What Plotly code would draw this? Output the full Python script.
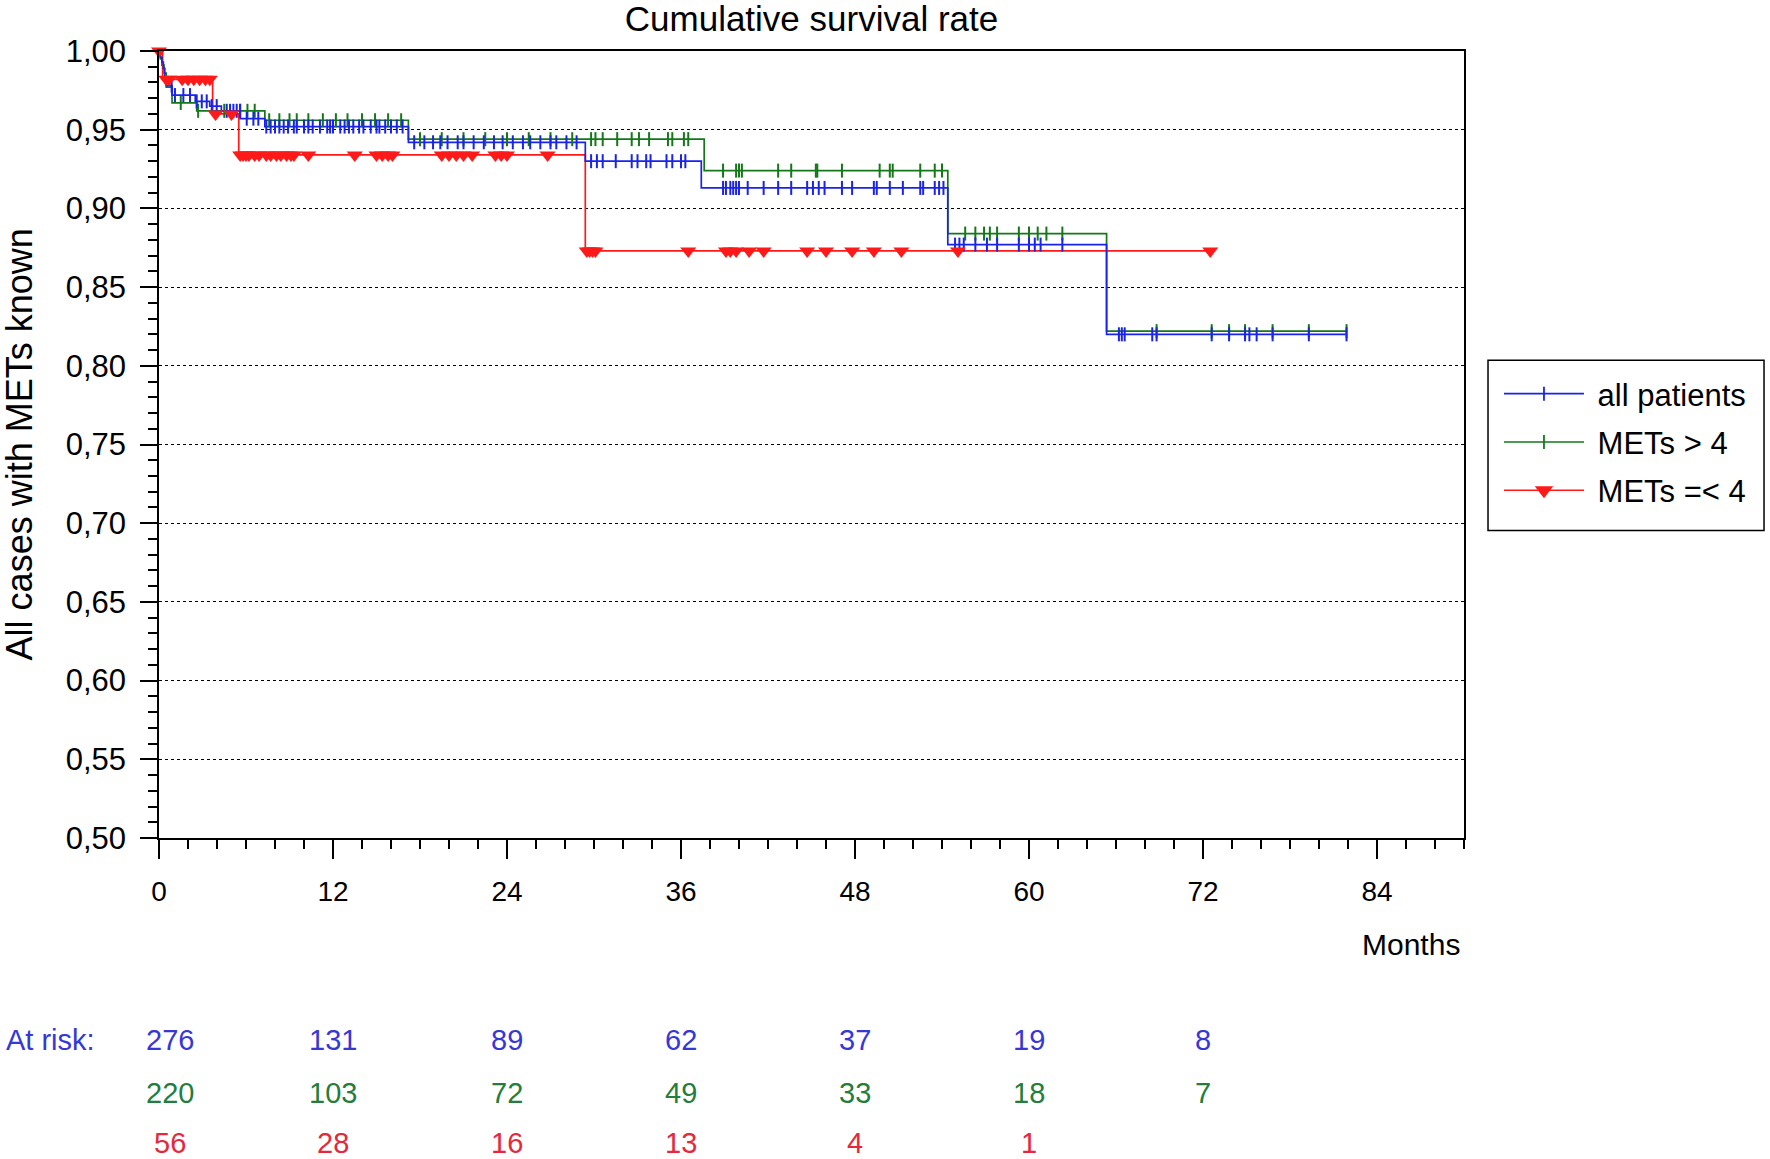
import numpy as np
import plotly.graph_objects as go

# ---------------- data ----------------
# step-function events: time (months) and survival after the step
all_t = [0, 0.1, 0.2, 0.3, 0.4, 0.5, 0.9, 2.5, 3.5, 4.3, 5.6, 7.3, 17.2, 29.4, 37.4, 54.4, 65.35]
all_s = [1.0, 0.996, 0.993, 0.989, 0.982, 0.978, 0.972, 0.968, 0.965, 0.962, 0.957, 0.952, 0.942, 0.930, 0.913, 0.877, 0.820]
all_end = 81.9
all_cens = [0.87, 1.1, 1.68, 2.14, 2.6, 2.95, 3.29, 3.64, 3.98, 4.67, 4.9, 5.13, 5.36, 5.59, 6.05, 6.51, 6.85,
            7.4, 7.7, 8.0, 8.3, 8.6, 8.9, 9.3, 9.5, 10.0, 10.3, 10.6, 11.1, 11.6, 11.8, 12.0, 12.5, 12.8, 13.1,
            13.4, 13.8, 14.1, 14.6, 15.0, 15.2, 15.6, 16.0, 16.4, 16.8,
            17.6, 18.3, 18.9, 19.4, 19.9, 20.6, 21.0, 21.7, 22.4, 23.1, 23.7, 24.4, 25.1, 25.6, 26.3, 27.0,
            27.4, 28.1, 28.8,
            29.8, 30.2, 30.6, 31.5, 32.6, 33.0, 33.6, 33.9, 35.0, 35.4, 36.0, 36.3,
            38.9, 39.1, 39.4, 39.6, 39.8, 40.0, 40.6, 41.7, 42.7, 43.6, 44.7, 45.1, 45.5, 45.9, 47.1, 47.8,
            49.3, 49.5, 50.4, 51.3, 52.5, 52.7, 53.5, 53.8, 54.1,
            54.9, 55.2, 55.5, 56.3, 57.1, 57.8, 59.3, 60.0, 60.4, 60.8, 62.3,
            66.2, 66.4, 66.6, 68.5, 68.8, 72.6, 73.8, 74.9, 75.2, 75.7, 76.8, 79.3, 81.9]

gt4_t = [0, 0.1, 0.2, 0.35, 0.5, 0.9, 2.6, 7.3, 17.2, 37.6, 54.4, 65.35]
gt4_s = [1.0, 0.995, 0.991, 0.986, 0.977, 0.967, 0.962, 0.956, 0.944, 0.924, 0.884, 0.822]
gt4_end = 81.9
gt4_cens = [1.5, 2.7, 4.5, 5.6, 6.1, 6.6,
            7.6, 8.3, 9.0, 9.5, 10.3, 11.3, 12.2, 13.0, 14.0, 14.9, 15.8, 16.7,
            18.0, 19.5, 21.0, 22.5, 24.0, 25.5, 27.0, 28.5, 29.8, 30.1, 30.6, 31.6, 32.6, 33.1, 33.8,
            35.1, 35.4, 36.2, 36.5,
            38.9, 39.8, 40.0, 40.2, 42.7, 43.6, 45.3, 45.4, 47.1, 49.7, 50.4, 50.6, 52.5, 53.5, 54.0,
            55.6, 56.3, 56.9, 57.3, 57.8, 59.3, 60.0, 60.6, 61.2, 62.3,
            68.8, 72.6, 73.8, 74.9, 76.8, 79.3, 81.9]

le4_t = [0, 0.25, 3.7, 5.5, 29.4]
le4_s = [1.0, 0.982, 0.960, 0.934, 0.873]
le4_end = 72.5
le4_cens = [0.0, 0.5, 0.7, 1.6, 2.0, 2.4, 2.8, 3.2, 3.5, 3.9, 5.0,
            5.6, 5.8, 6.0, 6.2, 6.6, 6.9, 7.4, 7.7, 8.1, 8.4, 8.8, 9.1, 9.3, 10.3, 13.5, 15.0, 15.4, 15.8,
            16.1, 19.5, 20.0, 20.5, 21.0, 21.6, 23.2, 23.6, 24.0, 26.8,
            29.5, 29.7, 29.9, 30.1, 36.5, 39.1, 39.4, 39.8, 40.7, 41.7, 44.7, 46.0, 47.8, 49.3, 51.2,
            55.1, 72.5]

risk_times = [0, 12, 24, 36, 48, 60, 72]
risk_all = [276, 131, 89, 62, 37, 19, 8]
risk_gt4 = [220, 103, 72, 49, 33, 18, 7]
risk_le4 = [56, 28, 16, 13, 4, 1]

series_names = ["all patients", "METs > 4", "METs =< 4"]
x_ticks = [0, 12, 24, 36, 48, 60, 72, 84]

# ---------------- styling ----------------
BLUE = "rgb(25,35,235)"
GREEN = "rgb(20,120,25)"
RED = "rgb(255,25,25)"
RISK_BLUE = "rgb(55,55,215)"
RISK_GREEN = "rgb(35,125,60)"
RISK_RED = "rgb(230,40,60)"
FONT = "Liberation Sans, Arial, sans-serif"

W, H = 1770, 1159


def step_lookup(times, surv, pts):
    idx = np.searchsorted(np.asarray(times), np.asarray(pts), side="right") - 1
    return [surv[i] for i in idx]


fig = go.Figure()

curves = [
    (all_t, all_s, all_end, all_cens, BLUE, "line-ns", 10, series_names[0]),
    (gt4_t, gt4_s, gt4_end, gt4_cens, GREEN, "line-ns", 10, series_names[1]),
    (le4_t, le4_s, le4_end, le4_cens, RED, "triangle-down", 14, series_names[2]),
]

# draw order: green, red, blue lines
for k in [1, 2, 0]:
    t, s, end, cens, col, sym, msz, name = curves[k]
    fig.add_trace(go.Scatter(
        x=list(t) + [end], y=list(s) + [s[-1]], mode="lines",
        line=dict(color=col, width=1.7, shape="hv"),
        showlegend=False, hoverinfo="skip", legendgroup=name))

for k in [1, 0, 2]:
    t, s, end, cens, col, sym, msz, name = curves[k]
    if sym == "line-ns":
        mk = dict(symbol=sym, size=msz, line=dict(color=col, width=2), color=col)
    else:
        mk = dict(symbol=sym, size=msz, color=col, line=dict(width=0))
    fig.add_trace(go.Scatter(
        x=cens, y=step_lookup(t, s, cens), mode="markers", marker=mk,
        showlegend=False, cliponaxis=False, legendgroup=name))

# legend entries
for k in [0, 1, 2]:
    t, s, end, cens, col, sym, msz, name = curves[k]
    if sym == "line-ns":
        mk = dict(symbol=sym, size=msz, line=dict(color=col, width=1.8), color=col)
    else:
        mk = dict(symbol=sym, size=msz + 2, color=col, line=dict(width=0))
    fig.add_trace(go.Scatter(
        x=[None], y=[None], mode="lines+markers", name="\u00a0" + name,
        line=dict(color=col, width=1.6), marker=mk, legendgroup=name))

annotations = []
# at-risk table
row_y = [-0.257, -0.3244, -0.388]
annotations.append(dict(text="At risk:", x=-0.1184, y=row_y[0], xref="paper", yref="paper",
                        xanchor="left", yanchor="middle", showarrow=False,
                        font=dict(size=29, color=RISK_BLUE, family=FONT)))
for row, vals, col in [(row_y[0], risk_all, RISK_BLUE), (row_y[1], risk_gt4, RISK_GREEN),
                       (row_y[2], risk_le4, RISK_RED)]:
    for i, v in enumerate(vals):
        annotations.append(dict(text=str(v), x=risk_times[i], y=row, xref="x", yref="paper",
                                xanchor="center", yanchor="middle", showarrow=False,
                                xshift=11 if i == 0 else 0,
                                font=dict(size=29, color=col, family=FONT)))
# axis titles
annotations.append(dict(text="Months", x=0.9985, y=-0.1349, xref="paper", yref="paper",
                        xanchor="right", yanchor="middle", showarrow=False,
                        font=dict(size=30, color="black", family=FONT)))
annotations.append(dict(text="All cases with METs known", x=-0.1066, y=0.5, xref="paper",
                        yref="paper", xanchor="center", yanchor="middle", textangle=-90,
                        showarrow=False, font=dict(size=36, color="black", family=FONT)))

# legend frame
shapes = [dict(type="rect", xref="paper", yref="paper", x0=1.0184, x1=1.2299, y0=0.3906, y1=0.6069,
               line=dict(color="black", width=1.5), fillcolor="rgba(0,0,0,0)", layer="above")]

fig.update_layout(
    width=W, height=H,
    margin=dict(l=159, r=306, t=51, b=321),
    paper_bgcolor="white", plot_bgcolor="white",
    separators=",.",
    font=dict(family=FONT, color="black"),
    title=dict(text="Cumulative survival rate", x=0.5, xref="paper", y=1 - 6 / H,
               yref="container", xanchor="center", yanchor="top",
               font=dict(size=35, color="black", family=FONT)),
    showlegend=True,
    legend=dict(x=1.0268, y=0.5985, xanchor="left", yanchor="top", bgcolor="rgba(0,0,0,0)",
                borderwidth=0, itemwidth=80,
                tracegroupgap=5, font=dict(size=31, color="black", family=FONT)),
    annotations=annotations,
    shapes=shapes,
)

fig.update_xaxes(
    range=[0, 90], tickvals=x_ticks, ticktext=[str(v) for v in x_ticks],
    showline=True, linecolor="black", linewidth=1.5, mirror=True,
    ticks="outside", ticklen=19, tickwidth=1.5, tickcolor="black",
    minor=dict(dtick=2, tick0=0, ticks="outside", ticklen=9, tickwidth=1.5, tickcolor="black", showgrid=False),
    showgrid=False, zeroline=False, ticklabelstandoff=9,
    tickfont=dict(size=28, color="black", family=FONT),
)
fig.update_yaxes(
    range=[0.5, 1.0], dtick=0.05, tick0=0.5, tickformat=".2f",
    showline=True, linecolor="black", linewidth=1.5, mirror=True,
    ticks="outside", ticklen=17, tickwidth=1.5, tickcolor="black",
    minor=dict(dtick=0.01, tick0=0.5, ticks="outside", ticklen=9, tickwidth=1.5, tickcolor="black", showgrid=False),
    showgrid=True, gridcolor="black", griddash="dot", gridwidth=1,
    zeroline=False, ticklabelstandoff=8,
    tickfont=dict(size=31, color="black", family=FONT),
)

fig.write_html("out.html", config={"displayModeBar": False},
               post_script="document.body.style.margin='0px';")
